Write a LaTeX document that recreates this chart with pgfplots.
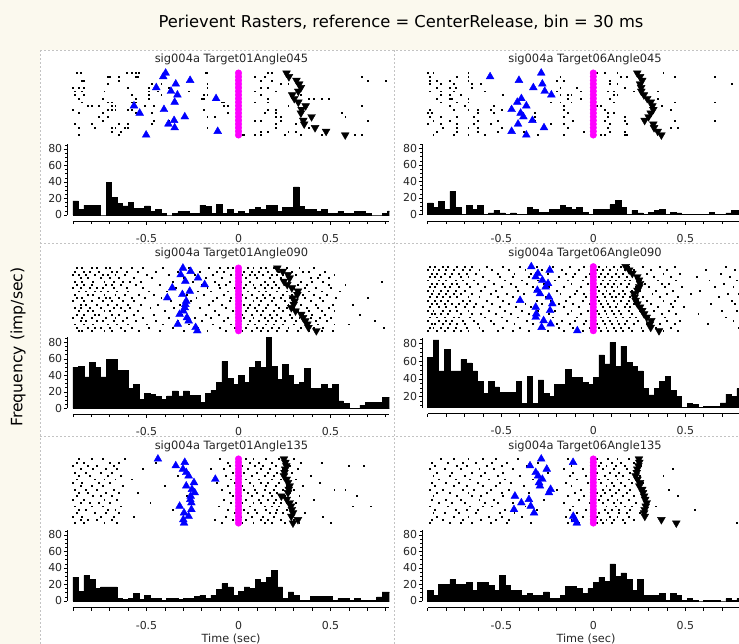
\documentclass[border=0pt]{standalone}
\usepackage{fontspec}
\setmainfont{DejaVu Sans}
\usepackage{pgfplots}
\usepackage{pgfplotstable}
\pgfplotsset{compat=1.18}
\definecolor{cream}{RGB}{251,249,238}
\definecolor{dashc}{RGB}{195,195,195}
\definecolor{mgn}{RGB}{255,0,255}
\definecolor{blu}{RGB}{0,0,255}

\pgfplotstableread{
t a b c d e f
-0.90 17 14 50 64 29 13
-0.87 7 9 51 84 12 7
-0.84 12 16 38 49 31 20
-0.81 12 6 56 73 26 20
-0.78 12 28 50 49 15 26
-0.75 0 9 38 49 17 20
-0.72 40 0 59 62 17 20
-0.69 21 11 59 58 17 23
-0.66 14 6 46 49 3 13
-0.63 11 11 46 37 2 23
-0.60 15 0 24 24 3 23
-0.57 8 2 29 37 9 19
-0.54 8 5 11 31 2 13
-0.51 11 2 18 25 7 31
-0.48 4 0 17 25 3 19
-0.45 7 2 14 25 3 13
-0.42 2 0 11 37 1 13
-0.39 0 0 15 12 3 7
-0.36 2 9 21 43 3 9
-0.33 4 6 15 12 2 7
-0.30 4 3 21 39 3 7
-0.27 2 3 16 24 3 11
-0.24 2 6 16 20 6 3
-0.21 12 6 7 34 7 3
-0.18 10 11 18 34 3 7
-0.15 2 9 22 51 7 18
-0.12 13 6 31 42 14 18
-0.09 2 9 57 42 21 15
-0.06 7 3 36 36 17 9
-0.03 2 0 29 34 7 15
0.00 4 6 40 42 12 23
0.03 2 6 31 67 17 29
0.06 7 6 50 57 15 24
0.09 9 12 57 81 26 45
0.12 7 17 50 54 23 30
0.15 12 9 86 77 29 34
0.18 12 0 51 59 37 26
0.21 4 5 35 54 17 13
0.24 9 2 53 49 3 26
0.27 9 0 40 29 11 7
0.30 34 3 29 22 7 7
0.33 10 5 31 29 1 7
0.36 7 6 48 37 1 9
0.39 7 0 24 43 6 1
0.42 4 3 24 27 6 9
0.45 7 2 29 20 6 7
0.48 2 0 24 8 6 1
0.51 2 0 29 12 1 3
0.54 4 0 9 11 3 1
0.57 2 0 6 8 3 0
0.60 2 0 0 9 1 1
0.63 4 3 0 9 3 1
0.66 4 0 4 9 1 1
0.69 2 0 7 13 1 0
0.72 0 2 7 23 1 3
0.75 0 5 7 20 5 1
0.78 2 5 13 29 11 3
0.81 5 5 13 29 11 3
0.84 0 0 0 0 0 0
}\hist

\pgfplotstableread{
k b d z
1 -0.396 0.261 0
2 -0.409 0.274 0
3 -0.263 0.315 0
4 -0.341 0.330 0
5 -0.447 0.339 0
6 -0.367 0.325 0
7 -0.332 0.292 0
8 -0.122 0.303 0
9 -0.347 0.325 0
10 -0.568 0.365 0
11 -0.405 0.343 0
12 -0.537 0.339 0
13 -0.292 0.397 0
14 -0.350 0.352 0
15 -0.381 0.357 0
16 -0.347 0.416 0
17 -0.113 0.476 0
18 -0.502 0.580 0
}\evA

\pgfplotstableread{
k b d z
1 -0.283 0.239 0
2 -0.561 0.254 0
3 -0.404 0.266 0
4 -0.277 0.254 0
5 -0.326 0.260 0
6 -0.264 0.261 0
7 -0.228 0.275 0
8 -0.391 0.293 0
9 -0.413 0.312 0
10 -0.364 0.321 0
11 -0.444 0.326 0
12 -0.395 0.312 0
13 -0.380 0.300 0
14 -0.331 0.279 0
15 -0.409 0.326 0
16 -0.268 0.330 0
17 -0.444 0.350 0
18 -0.364 0.370 0
}\evB

\pgfplotstableread{
k b d z
1 -0.302 0.211 0
2 -0.260 0.240 0
3 -0.314 0.269 0
4 -0.220 0.278 0
5 -0.289 0.247 0
6 -0.184 0.265 0
7 -0.360 0.290 0
8 -0.265 0.323 0
9 -0.305 0.320 0
10 -0.387 0.296 0
11 -0.284 0.305 0
12 -0.289 0.300 0
13 -0.292 0.287 0
14 -0.300 0.310 0
15 -0.320 0.341 0
16 -0.280 0.351 0
17 -0.271 0.363 0
18 -0.330 0.374 0
19 -0.233 0.380 0
20 -0.224 0.423 0
}\evC

\pgfplotstableread{
k b d z
1 -0.337 0.176 0
2 -0.237 0.195 0
3 -0.301 0.212 0
4 -0.313 0.239 0
5 -0.277 0.248 0
6 -0.246 0.254 0
7 -0.259 0.250 0
8 -0.304 0.240 0
9 -0.290 0.221 0
10 -0.241 0.225 0
11 -0.398 0.230 0
12 -0.223 0.240 0
13 -0.313 0.254 0
14 -0.235 0.266 0
15 -0.310 0.276 0
16 -0.313 0.290 0
17 -0.270 0.315 0
18 -0.232 0.308 0
19 -0.281 0.312 0
20 -0.087 0.357 0
}\evD

\pgfplotstableread{
k b d z
1 -0.438 0.247 0
2 -0.292 0.255 0
3 -0.341 0.260 0
4 -0.302 0.254 0
5 -0.284 0.250 0
6 -0.271 0.247 0
7 -0.126 0.262 0
8 -0.242 0.269 0
9 -0.284 0.278 0
10 -0.253 0.273 0
11 -0.238 0.269 0
12 -0.260 0.233 0
13 -0.262 0.262 0
14 -0.256 0.278 0
15 -0.320 0.285 0
16 -0.256 0.290 0
17 -0.296 0.296 0
18 -0.271 0.287 0
19 -0.300 0.323 0
20 -0.296 0.296 0
}\evE

\pgfplotstableread{
k b d z
1 -0.283 0.248 0
2 -0.110 0.250 0
3 -0.344 0.245 0
4 -0.253 0.239 0
5 -0.313 0.236 0
6 -0.300 0.230 0
7 -0.277 0.240 0
8 -0.295 0.254 0
9 -0.290 0.250 0
10 -0.232 0.266 0
11 -0.241 0.270 0
12 -0.426 0.276 0
13 -0.350 0.282 0
14 -0.391 0.290 0
15 -0.340 0.285 0
16 -0.431 0.279 0
17 -0.322 0.276 0
18 -0.109 0.280 0
19 -0.100 0.370 0
20 -0.090 0.451 0
}\evF

\pgfplotsset{
  /pgf/number format/assume math mode=true,
  raster/.style={scale only axis, width=316.48bp, xmin=-0.9, xmax=0.82,
    ymin=0.5, y dir=reverse, hide axis, clip=false, anchor=north west},
  histo/.style={scale only axis, width=322bp, xmin=-0.93, xmax=0.82,
    anchor=south west, axis y line*=left, axis x line=none,
    ytick={0,20,40,60,80}, minor ytick={0,5,...,85},
    tick align=outside, major tick length=3.5bp, minor tick length=2bp,
    tick style={black, line width=0.6bp},
    axis line style={black, line width=0.8bp},
    yticklabel style={font=\fontsize{11}{12}\selectfont, inner sep=1.5bp, text=black!85},
    ymin=0, ymax=86, height=70.95bp},
  xstrip/.style={scale only axis, width=316.48bp, height=1bp,
    xmin=-0.9, xmax=0.82, ymin=0, ymax=1, anchor=south west,
    axis x line*=bottom, axis y line=none,
    xtick={-0.5,0,0.5}, xticklabels={-0.5,0,0.5},
    minor xtick={-0.9,-0.8,-0.7,-0.6,-0.4,-0.3,-0.2,-0.1,0.1,0.2,0.3,0.4,0.6,0.7,0.8},
    tick align=outside, major tick length=3.5bp, minor tick length=3bp,
    tick style={black, line width=0.6bp},
    axis line style={black, line width=0.8bp},
    xticklabel shift=8bp,
    xticklabel style={font=\fontsize{11}{12}\selectfont, inner sep=1.5bp, text=black!85},
    xlabel style={font=\fontsize{11.3}{13}\selectfont, text=black!85, yshift=0bp}},
  bars/.style={ybar interval, fill=black, draw=black, line width=0.6bp},
  spk/.style={only marks, mark=square*, mark size=0.45bp, mark options={draw=none, fill=black}},
  mg/.style={only marks, mark=*, mark size=3.3bp, color=mgn, mark options={draw=mgn, fill=mgn}},
  bt/.style={only marks, mark=triangle*, mark size=4.5bp, color=blu, mark options={draw=blu, fill=blu}},
  kt/.style={only marks, mark=triangle*, mark size=4.5bp, color=black, mark options={rotate=180, draw=black, fill=black}},
}

\begin{document}
\begin{tikzpicture}
\path[use as bounding box] (0,0) rectangle (739bp,-644bp);
\fill[cream] (0,0) rectangle (739bp,-644bp);
\fill[white] (40bp,-50bp) rectangle (739bp,-644bp);
\begin{scope}[dashc, line width=0.8bp, dash pattern=on 2bp off 2bp]
\draw (40bp,-50bp) -- (739bp,-50bp);
\draw (40bp,-50bp) -- (40bp,-644bp);
\draw (394bp,-50bp) -- (394bp,-644bp);
\draw (40bp,-243bp) -- (739bp,-243bp);
\draw (40bp,-436.5bp) -- (739bp,-436.5bp);
\end{scope}

\node[font=\fontsize{16.4}{19}\selectfont] at (401bp,-22bp) {Perievent Rasters, reference = CenterRelease, bin = 30 ms};
\node[rotate=90, font=\fontsize{15.7}{18}\selectfont] at (18bp,-347bp) {Frequency (imp/sec)};

\begin{scope}[every node/.style={font=\fontsize{11.5}{13}\selectfont, text=black!85}]
\node at (231.5bp,-59.5bp) {sig004a Target01Angle045};
\node at (585bp,-59.5bp) {sig004a Target06Angle045};
\node at (231.5bp,-253bp) {sig004a Target01Angle090};
\node at (585bp,-253bp) {sig004a Target06Angle090};
\node at (231.5bp,-446bp) {sig004a Target01Angle135};
\node at (585bp,-446bp) {sig004a Target06Angle135};
\end{scope}

% ---------------- Panel 1 ----------------
\begin{axis}[raster, at={(72.9bp,-71.2bp)}, height=65.6bp, ymax=18.5]
\addplot[spk] coordinates {
(-0.88,1) (-0.86,1) (-0.61,1) (-0.58,1) (-0.56,1) (-0.54,1) (-0.40,1) (-0.18,1) (-0.17,1) (0.16,1) (0.18,1)
(-0.71,2) (-0.70,2) (-0.65,2) (-0.56,2) (-0.55,2) (0.09,2) (0.14,2) (0.67,2)
(-0.85,3) (-0.84,3) (-0.65,3) (0.12,3) (0.18,3) (0.70,3) (0.80,3)
(-0.71,4) (-0.47,4) (-0.42,4) (-0.17,4) (0.23,4) (0.27,4)
(-0.90,5) (-0.87,5) (-0.84,5) (-0.60,5) (-0.49,5) (-0.38,5) (-0.17,5) (0.12,5) (0.16,5)
(-0.89,6) (-0.85,6) (-0.73,6) (-0.49,6) (-0.44,6) (-0.27,6) (0.09,6) (0.20,6)
(-0.89,7) (-0.84,7) (-0.58,7) (-0.49,7) (-0.42,7) (-0.19,7) (-0.17,7) (0.12,7) (0.34,7)
(-0.87,8) (-0.74,8) (-0.56,8) (-0.49,8) (-0.20,8) (-0.19,8) (0.16,8) (0.38,8) (0.41,8) (0.45,8) (0.49,8)
(-0.85,9) (-0.71,9) (-0.69,9) (-0.58,9) (-0.56,9) (-0.09,9) (-0.08,9) (0.09,9) (0.16,9)
(-0.82,10) (-0.80,10) (-0.76,10) (-0.69,10) (-0.67,10) (-0.51,10) (-0.46,10) (-0.08,10) (-0.06,10) (0.27,10) (0.67,10)
(-0.90,11) (-0.71,11) (-0.69,11) (-0.67,11) (-0.60,11) (-0.58,11) (-0.19,11) (0.16,11) (0.20,11)
(-0.87,12) (-0.74,12) (-0.56,12) (-0.47,12) (-0.06,12) (0.14,12) (0.20,12) (0.34,12) (0.56,12)
(-0.76,13) (-0.71,13) (-0.17,13) (-0.13,13) (0.20,13) (0.23,13) (0.40,13) (0.58,13)
(-0.74,14) (-0.46,14) (-0.38,14) (0.09,14) (0.12,14) (0.23,14) (0.70,14)
(-0.89,15) (-0.80,15) (-0.65,15) (-0.60,15) (-0.47,15) (0.20,15) (0.31,15)
(-0.87,16) (-0.78,16) (-0.69,16) (-0.67,16) (-0.62,16) (-0.60,16) (-0.17,16) (0.20,16) (0.38,16)
(-0.69,17) (-0.64,17) (0.12,17) (0.16,17) (0.27,17) (0.31,17)
(-0.87,18) (-0.65,18) (0.02,18) (0.03,18) (0.09,18) (0.12,18) (0.25,18) (0.34,18) (0.45,18) (0.63,18) (0.67,18)
};
\addplot[mg] table[x=z,y=k] {\evA};
\addplot[bt] table[x=b,y=k] {\evA};
\addplot[kt] table[x=d,y=k] {\evA};
\end{axis}
\begin{axis}[histo, at={(67.4bp,-215bp)}]
\addplot[bars] table[x=t,y=a] {\hist};
\end{axis}
\begin{axis}[xstrip, at={(72.9bp,-221bp)}]
\end{axis}

% ---------------- Panel 2 ----------------
\begin{axis}[raster, at={(427.7bp,-71.2bp)}, height=65.6bp, ymax=18.5]
\addplot[spk] coordinates {
(-0.90,1) (-0.87,1) (-0.68,1) (0.02,1) (0.06,1) (0.13,1) (0.38,1)
(-0.89,2) (-0.74,2) (-0.68,2) (-0.18,2) (0.15,2) (0.18,2) (0.44,2) (0.66,2)
(-0.89,3) (-0.85,3) (-0.78,3) (-0.68,3) (-0.20,3) (-0.16,3) (0.09,3)
(-0.89,4) (-0.83,4) (-0.76,4) (-0.66,4) (-0.61,4) (0.09,4) (0.13,4) (0.75,4)
(-0.85,5) (-0.78,5) (-0.75,5) (-0.66,5) (-0.18,5) (-0.09,5) (0.17,5)
(-0.89,6) (-0.83,6) (-0.76,6) (-0.59,6) (-0.20,6) (-0.07,6) (0.08,6) (0.11,6) (0.22,6) (0.35,6)
(-0.83,7) (-0.78,7) (-0.72,7) (-0.49,7) (-0.18,7) (-0.14,7) (-0.12,7) (0.11,7) (0.13,7)
(-0.85,8) (-0.78,8) (-0.77,8) (-0.68,8) (-0.14,8) (-0.07,8) (0.09,8) (0.35,8)
(-0.83,9) (-0.74,9) (-0.68,9) (-0.23,9) (-0.18,9) (-0.12,9) (0.11,9) (0.44,9) (0.66,9)
(-0.78,10) (-0.70,10) (-0.54,10) (-0.16,10) (0.02,10) (0.04,10) (0.37,10)
(-0.89,11) (-0.76,11) (-0.68,11) (-0.63,11) (-0.56,11) (-0.50,11) (-0.16,11) (0.06,11) (0.42,11)
(-0.90,12) (-0.88,12) (-0.63,12) (-0.54,12) (-0.32,12) (-0.14,12) (0.08,12) (0.11,12)
(-0.89,13) (-0.83,13) (-0.74,13) (-0.65,13) (-0.32,13) (-0.16,13) (0.08,13) (0.17,13)
(-0.87,14) (-0.78,14) (-0.63,14) (-0.52,14) (-0.32,14) (-0.11,14) (0.06,14) (0.17,14) (0.44,14) (0.66,14)
(-0.90,15) (-0.83,15) (-0.74,15) (-0.65,15) (-0.56,15) (-0.23,15) (-0.16,15) (0.09,15) (0.18,15)
(-0.82,16) (-0.74,16) (-0.68,16) (-0.63,16) (-0.50,16) (-0.14,16) (0.08,16) (0.42,16) (0.46,16)
(-0.85,17) (-0.74,17) (-0.63,17) (-0.52,17) (-0.38,17) (-0.05,17) (0.09,17) (0.17,17)
(-0.87,18) (-0.76,18) (-0.68,18) (-0.59,18) (-0.30,18) (-0.16,18) (0.04,18) (0.06,18) (0.17,18) (0.18,18)
};
\addplot[mg] table[x=z,y=k] {\evB};
\addplot[bt] table[x=b,y=k] {\evB};
\addplot[kt] table[x=d,y=k] {\evB};
\end{axis}
\begin{axis}[histo, at={(422.2bp,-214.5bp)}]
\addplot[bars] table[x=t,y=b] {\hist};
\end{axis}
\begin{axis}[xstrip, at={(427.7bp,-221bp)}]
\end{axis}

% ---------------- Panel 3 ----------------
\begin{axis}[raster, at={(72.9bp,-266.4bp)}, height=66bp, ymax=20.5]
\addplot[spk] coordinates {
(-0.88,1) (-0.85,1) (-0.80,1) (-0.77,1) (-0.72,1) (-0.70,1) (-0.64,1) (-0.58,1) (-0.52,1) (-0.41,1) (-0.27,1) (-0.16,1) (-0.10,1) (-0.06,1) (-0.03,1) (0.05,1) (0.08,1) (0.12,1) (0.15,1) (0.19,1) (0.26,1) (0.33,1) (0.41,1)
(-0.89,2) (-0.84,2) (-0.81,2) (-0.76,2) (-0.69,2) (-0.66,2) (-0.61,2) (-0.55,2) (-0.45,2) (-0.33,2) (-0.21,2) (-0.12,2) (-0.08,2) (0.03,2) (0.07,2) (0.11,2) (0.16,2) (0.22,2) (0.29,2) (0.35,2) (0.38,2) (0.47,2)
(-0.90,3) (-0.87,3) (-0.83,3) (-0.78,3) (-0.74,3) (-0.71,3) (-0.67,3) (-0.62,3) (-0.50,3) (-0.38,3) (-0.24,3) (-0.14,3) (-0.04,3) (0.02,3) (0.06,3) (0.09,3) (0.13,3) (0.18,3) (0.21,3) (0.24,3) (0.31,3) (0.44,3) (0.52,3)
(-0.86,4) (-0.82,4) (-0.75,4) (-0.70,4) (-0.65,4) (-0.57,4) (-0.47,4) (-0.30,4) (-0.18,4) (-0.09,4) (0.04,4) (0.10,4) (0.17,4) (0.23,4) (0.28,4) (0.39,4) (0.43,4) (0.49,4)
(-0.89,5) (-0.85,5) (-0.79,5) (-0.73,5) (-0.68,5) (-0.63,5) (-0.59,5) (-0.53,5) (-0.36,5) (-0.25,5) (-0.13,5) (-0.05,5) (0.01,5) (0.06,5) (0.14,5) (0.19,5) (0.27,5) (0.34,5) (0.40,5) (0.46,5) (0.78,5)
(-0.88,6) (-0.84,6) (-0.80,6) (-0.72,6) (-0.69,6) (-0.64,6) (-0.56,6) (-0.43,6) (-0.20,6) (-0.11,6) (-0.07,6) (0.04,6) (0.08,6) (0.12,6) (0.16,6) (0.20,6) (0.25,6) (0.32,6) (0.37,6) (0.49,6) (0.58,6)
(-0.90,7) (-0.86,7) (-0.81,7) (-0.77,7) (-0.74,7) (-0.68,7) (-0.61,7) (-0.52,7) (-0.34,7) (-0.17,7) (-0.10,7) (-0.02,7) (0.03,7) (0.09,7) (0.14,7) (0.18,7) (0.22,7) (0.30,7) (0.36,7) (0.42,7) (0.50,7)
(-0.87,8) (-0.83,8) (-0.78,8) (-0.75,8) (-0.71,8) (-0.66,8) (-0.60,8) (-0.49,8) (-0.39,8) (-0.22,8) (-0.15,8) (-0.06,8) (0.05,8) (0.11,8) (0.15,8) (0.21,8) (0.26,8) (0.33,8) (0.38,8) (0.45,8) (0.55,8)
(-0.89,9) (-0.82,9) (-0.79,9) (-0.73,9) (-0.67,9) (-0.62,9) (-0.54,9) (-0.46,9) (-0.28,9) (-0.19,9) (-0.08,9) (0.02,9) (0.07,9) (0.13,9) (0.17,9) (0.24,9) (0.29,9) (0.35,9) (0.41,9) (0.48,9)
(-0.88,10) (-0.85,10) (-0.76,10) (-0.72,10) (-0.70,10) (-0.65,10) (-0.58,10) (-0.51,10) (-0.42,10) (-0.23,10) (-0.12,10) (-0.04,10) (0.04,10) (0.10,10) (0.14,10) (0.19,10) (0.23,10) (0.28,10) (0.36,10) (0.44,10) (0.53,10) (0.70,10)
(-0.90,11) (-0.84,11) (-0.80,11) (-0.74,11) (-0.69,11) (-0.63,11) (-0.57,11) (-0.37,11) (-0.26,11) (-0.14,11) (-0.05,11) (0.01,11) (0.08,11) (0.12,11) (0.18,11) (0.25,11) (0.31,11) (0.39,11) (0.46,11)
(-0.86,12) (-0.83,12) (-0.77,12) (-0.71,12) (-0.66,12) (-0.60,12) (-0.53,12) (-0.44,12) (-0.32,12) (-0.16,12) (-0.09,12) (0.03,12) (0.06,12) (0.11,12) (0.16,12) (0.20,12) (0.27,12) (0.34,12) (0.42,12) (0.51,12) (0.62,12)
(-0.89,13) (-0.86,13) (-0.81,13) (-0.75,13) (-0.68,13) (-0.64,13) (-0.59,13) (-0.48,13) (-0.35,13) (-0.21,13) (-0.07,13) (-0.01,13) (0.05,13) (0.09,13) (0.15,13) (0.22,13) (0.26,13) (0.30,13) (0.37,13) (0.43,13) (0.49,13)
(-0.87,14) (-0.82,14) (-0.79,14) (-0.73,14) (-0.70,14) (-0.62,14) (-0.55,14) (-0.40,14) (-0.29,14) (-0.13,14) (-0.03,14) (0.04,14) (0.10,14) (0.13,14) (0.19,14) (0.24,14) (0.32,14) (0.38,14) (0.45,14) (0.52,14)
(-0.88,15) (-0.84,15) (-0.78,15) (-0.76,15) (-0.69,15) (-0.65,15) (-0.57,15) (-0.46,15) (-0.31,15) (-0.18,15) (-0.11,15) (0.02,15) (0.07,15) (0.12,15) (0.17,15) (0.21,15) (0.28,15) (0.35,15) (0.40,15) (0.47,15) (0.66,15)
(-0.90,16) (-0.85,16) (-0.80,16) (-0.72,16) (-0.67,16) (-0.61,16) (-0.52,16) (-0.38,16) (-0.24,16) (-0.15,16) (-0.06,16) (0.03,16) (0.08,16) (0.14,16) (0.18,16) (0.23,16) (0.29,16) (0.33,16) (0.39,16) (0.44,16) (0.50,16)
(-0.86,17) (-0.83,17) (-0.77,17) (-0.74,17) (-0.68,17) (-0.63,17) (-0.56,17) (-0.45,17) (-0.33,17) (-0.20,17) (-0.08,17) (0.01,17) (0.06,17) (0.11,17) (0.16,17) (0.20,17) (0.25,17) (0.31,17) (0.36,17) (0.42,17) (0.48,17) (0.74,17)
(-0.89,18) (-0.84,18) (-0.79,18) (-0.71,18) (-0.66,18) (-0.60,18) (-0.50,18) (-0.41,18) (-0.27,18) (-0.14,18) (-0.04,18) (0.05,18) (0.09,18) (0.15,18) (0.19,18) (0.24,18) (0.30,18) (0.37,18) (0.43,18) (0.52,18) (0.60,18)
(-0.88,19) (-0.82,19) (-0.78,19) (-0.75,19) (-0.70,19) (-0.64,19) (-0.58,19) (-0.49,19) (-0.36,19) (-0.22,19) (-0.10,19) (-0.02,19) (0.04,19) (0.10,19) (0.13,19) (0.18,19) (0.22,19) (0.27,19) (0.34,19) (0.41,19) (0.46,19) (0.79,19)
(-0.87,20) (-0.85,20) (-0.80,20) (-0.73,20) (-0.69,20) (-0.62,20) (-0.54,20) (-0.43,20) (-0.30,20) (-0.17,20) (-0.07,20) (0.02,20) (0.07,20) (0.12,20) (0.16,20) (0.21,20) (0.26,20) (0.32,20) (0.38,20) (0.45,20) (0.51,20)
};
\addplot[mg] table[x=z,y=k] {\evC};
\addplot[bt] table[x=b,y=k] {\evC};
\addplot[kt] table[x=d,y=k] {\evC};
\end{axis}
\begin{axis}[histo, at={(67.4bp,-408.3bp)}]
\addplot[bars] table[x=t,y=c] {\hist};
\end{axis}
\begin{axis}[xstrip, at={(72.9bp,-414bp)}]
\end{axis}

% ---------------- Panel 4 ----------------
\begin{axis}[raster, at={(427.7bp,-265bp)}, height=67.4bp, ymax=20.5]
\addplot[spk] coordinates {
(-0.89,1) (-0.86,1) (-0.82,1) (-0.79,1) (-0.74,1) (-0.70,1) (-0.66,1) (-0.58,1) (-0.49,1) (-0.40,1) (-0.31,1) (-0.22,1) (-0.13,1) (-0.05,1) (0.03,1) (0.07,1) (0.11,1) (0.15,1) (0.19,1) (0.27,1) (0.36,1) (0.44,1) (0.72,1)
(-0.90,2) (-0.87,2) (-0.84,2) (-0.80,2) (-0.76,2) (-0.71,2) (-0.67,2) (-0.62,2) (-0.55,2) (-0.46,2) (-0.37,2) (-0.28,2) (-0.17,2) (-0.08,2) (0.02,2) (0.05,2) (0.09,2) (0.13,2) (0.17,2) (0.22,2) (0.31,2) (0.40,2) (0.61,2) (0.77,2)
(-0.88,3) (-0.85,3) (-0.81,3) (-0.77,3) (-0.73,3) (-0.69,3) (-0.64,3) (-0.52,3) (-0.43,3) (-0.34,3) (-0.25,3) (-0.15,3) (-0.10,3) (-0.02,3) (0.04,3) (0.08,3) (0.12,3) (0.16,3) (0.21,3) (0.29,3) (0.38,3) (0.47,3) (0.69,3) (0.80,3)
(-0.89,4) (-0.86,4) (-0.83,4) (-0.78,4) (-0.72,4) (-0.68,4) (-0.60,4) (-0.51,4) (-0.44,4) (-0.35,4) (-0.19,4) (-0.11,4) (-0.04,4) (0.03,4) (0.06,4) (0.10,4) (0.14,4) (0.18,4) (0.24,4) (0.33,4) (0.42,4) (0.56,4) (0.74,4)
(-0.90,5) (-0.84,5) (-0.80,5) (-0.75,5) (-0.71,5) (-0.65,5) (-0.57,5) (-0.48,5) (-0.39,5) (-0.30,5) (-0.21,5) (-0.14,5) (-0.06,5) (0.01,5) (0.05,5) (0.09,5) (0.12,5) (0.17,5) (0.20,5) (0.26,5) (0.35,5) (0.45,5) (0.63,5) (0.78,5)
(-0.88,6) (-0.85,6) (-0.82,6) (-0.77,6) (-0.74,6) (-0.69,6) (-0.63,6) (-0.54,6) (-0.45,6) (-0.36,6) (-0.27,6) (-0.12,6) (-0.03,6) (0.04,6) (0.08,6) (0.11,6) (0.15,6) (0.19,6) (0.28,6) (0.37,6) (0.41,6) (0.71,6)
(-0.89,7) (-0.86,7) (-0.81,7) (-0.78,7) (-0.73,7) (-0.67,7) (-0.59,7) (-0.50,7) (-0.42,7) (-0.33,7) (-0.24,7) (-0.16,7) (-0.07,7) (0.02,7) (0.06,7) (0.10,7) (0.13,7) (0.18,7) (0.23,7) (0.30,7) (0.39,7) (0.48,7) (0.66,7) (0.76,7)
(-0.90,8) (-0.87,8) (-0.83,8) (-0.79,8) (-0.75,8) (-0.70,8) (-0.61,8) (-0.53,8) (-0.41,8) (-0.32,8) (-0.20,8) (-0.09,8) (-0.01,8) (0.03,8) (0.07,8) (0.11,8) (0.16,8) (0.21,8) (0.25,8) (0.34,8) (0.43,8) (0.58,8)
(-0.88,9) (-0.84,9) (-0.80,9) (-0.76,9) (-0.72,9) (-0.66,9) (-0.56,9) (-0.47,9) (-0.38,9) (-0.29,9) (-0.18,9) (-0.10,9) (-0.05,9) (0.01,9) (0.05,9) (0.09,9) (0.14,9) (0.17,9) (0.22,9) (0.32,9) (0.40,9) (0.53,9) (0.73,9) (0.79,9)
(-0.89,10) (-0.85,10) (-0.82,10) (-0.78,10) (-0.74,10) (-0.68,10) (-0.62,10) (-0.52,10) (-0.44,10) (-0.26,10) (-0.13,10) (-0.04,10) (0.02,10) (0.06,10) (0.10,10) (0.12,10) (0.16,10) (0.20,10) (0.27,10) (0.36,10) (0.46,10) (0.68,10)
(-0.90,11) (-0.86,11) (-0.83,11) (-0.79,11) (-0.71,11) (-0.67,11) (-0.58,11) (-0.49,11) (-0.40,11) (-0.31,11) (-0.23,11) (-0.15,11) (-0.06,11) (0.03,11) (0.07,11) (0.11,11) (0.15,11) (0.19,11) (0.24,11) (0.29,11) (0.38,11) (0.44,11) (0.75,11)
(-0.88,12) (-0.85,12) (-0.81,12) (-0.77,12) (-0.73,12) (-0.69,12) (-0.64,12) (-0.55,12) (-0.46,12) (-0.37,12) (-0.28,12) (-0.19,12) (-0.11,12) (-0.02,12) (0.04,12) (0.08,12) (0.13,12) (0.18,12) (0.22,12) (0.31,12) (0.42,12) (0.64,12) (0.77,12)
(-0.89,13) (-0.84,13) (-0.80,13) (-0.75,13) (-0.70,13) (-0.65,13) (-0.60,13) (-0.51,13) (-0.42,13) (-0.34,13) (-0.16,13) (-0.08,13) (0.01,13) (0.05,13) (0.09,13) (0.12,13) (0.17,13) (0.20,13) (0.26,13) (0.35,13) (0.43,13) (0.49,13)
(-0.90,14) (-0.87,14) (-0.82,14) (-0.78,14) (-0.74,14) (-0.68,14) (-0.57,14) (-0.48,14) (-0.39,14) (-0.30,14) (-0.21,14) (-0.12,14) (-0.03,14) (0.02,14) (0.06,14) (0.10,14) (0.14,14) (0.19,14) (0.25,14) (0.33,14) (0.41,14) (0.70,14) (0.78,14)
(-0.88,15) (-0.86,15) (-0.83,15) (-0.79,15) (-0.72,15) (-0.66,15) (-0.61,15) (-0.53,15) (-0.45,15) (-0.35,15) (-0.24,15) (-0.14,15) (-0.07,15) (0.03,15) (0.07,15) (0.11,15) (0.15,15) (0.21,15) (0.28,15) (0.37,15) (0.45,15) (0.57,15)
(-0.89,16) (-0.85,16) (-0.81,16) (-0.76,16) (-0.73,16) (-0.67,16) (-0.59,16) (-0.50,16) (-0.41,16) (-0.32,16) (-0.22,16) (-0.09,16) (-0.01,16) (0.04,16) (0.08,16) (0.12,16) (0.16,16) (0.20,16) (0.23,16) (0.30,16) (0.39,16) (0.72,16)
(-0.90,17) (-0.84,17) (-0.80,17) (-0.77,17) (-0.71,17) (-0.65,17) (-0.56,17) (-0.47,17) (-0.36,17) (-0.27,17) (-0.17,17) (-0.10,17) (-0.04,17) (0.01,17) (0.05,17) (0.09,17) (0.13,17) (0.18,17) (0.24,17) (0.32,17) (0.40,17) (0.47,17) (0.76,17)
(-0.88,18) (-0.86,18) (-0.82,18) (-0.78,18) (-0.74,18) (-0.70,18) (-0.63,18) (-0.54,18) (-0.43,18) (-0.33,18) (-0.20,18) (-0.13,18) (-0.05,18) (0.02,18) (0.06,18) (0.10,18) (0.14,18) (0.17,18) (0.22,18) (0.29,18) (0.36,18) (0.44,18) (0.62,18)
(-0.89,19) (-0.87,19) (-0.83,19) (-0.79,19) (-0.75,19) (-0.69,19) (-0.62,19) (-0.49,19) (-0.40,19) (-0.29,19) (-0.19,19) (-0.11,19) (-0.02,19) (0.03,19) (0.07,19) (0.11,19) (0.15,19) (0.19,19) (0.26,19) (0.34,19) (0.42,19) (0.79,19)
(-0.90,20) (-0.85,20) (-0.81,20) (-0.76,20) (-0.72,20) (-0.68,20) (-0.60,20) (-0.52,20) (-0.44,20) (-0.35,20) (-0.25,20) (-0.16,20) (-0.06,20) (0.04,20) (0.08,20) (0.12,20) (0.16,20) (0.21,20) (0.27,20) (0.38,20) (0.46,20)
};
\addplot[mg] table[x=z,y=k] {\evD};
\addplot[bt] table[x=b,y=k] {\evD};
\addplot[kt] table[x=d,y=k] {\evD};
\end{axis}
\begin{axis}[histo, at={(422.2bp,-407.7bp)}, ymin=7.6, ymax=85.6, height=69.3bp,
  ytick={20,40,60,80}, minor ytick={10,15,...,85}]
\addplot[bars] table[x=t,y=d] {\hist};
\end{axis}
\begin{axis}[xstrip, at={(427.7bp,-413.5bp)}]
\end{axis}

% ---------------- Panel 5 ----------------
\begin{axis}[raster, at={(72.9bp,-457.3bp)}, height=67.4bp, ymax=20.5]
\addplot[spk] coordinates {
(-0.87,1) (-0.80,1) (-0.74,1) (-0.62,1) (-0.10,1) (0.04,1) (0.08,1) (0.15,1) (0.22,1) (0.30,1)
(-0.88,2) (-0.84,2) (-0.70,2) (-0.65,2) (-0.45,2) (-0.06,2) (0.06,2) (0.11,2) (0.18,2) (0.26,2) (0.34,2) (0.45,2)
(-0.90,3) (-0.82,3) (-0.77,3) (-0.68,3) (-0.05,3) (0.02,3) (0.09,3) (0.13,3) (0.20,3) (0.28,3) (0.60,3) (0.68,3)
(-0.86,4) (-0.79,4) (-0.72,4) (-0.66,4) (-0.52,4) (-0.15,4) (-0.08,4) (0.05,4) (0.12,4) (0.17,4) (0.24,4) (0.32,4)
(-0.89,5) (-0.83,5) (-0.75,5) (-0.69,5) (-0.03,5) (0.03,5) (0.10,5) (0.16,5) (0.21,5) (0.29,5)
(-0.87,6) (-0.81,6) (-0.71,6) (-0.64,6) (-0.33,6) (-0.07,6) (0.01,6) (0.07,6) (0.14,6) (0.19,6) (0.25,6) (0.39,6)
(-0.88,7) (-0.78,7) (-0.73,7) (-0.67,7) (-0.58,7) (-0.04,7) (0.04,7) (0.11,7) (0.18,7) (0.23,7) (0.31,7)
(-0.90,8) (-0.85,8) (-0.76,8) (-0.70,8) (-0.12,8) (-0.02,8) (0.06,8) (0.12,8) (0.16,8) (0.22,8) (0.27,8) (0.44,8)
(-0.86,9) (-0.80,9) (-0.74,9) (-0.63,9) (-0.40,9) (-0.06,9) (0.02,9) (0.08,9) (0.15,9) (0.20,9) (0.26,9) (0.35,9)
(-0.89,10) (-0.83,10) (-0.77,10) (-0.68,10) (-0.09,10) (0.03,10) (0.09,10) (0.14,10) (0.19,10) (0.24,10) (0.30,10) (0.52,10) (0.58,10)
(-0.87,11) (-0.82,11) (-0.72,11) (-0.65,11) (-0.55,11) (-0.05,11) (0.05,11) (0.10,11) (0.17,11) (0.21,11) (0.28,11)
(-0.88,12) (-0.79,12) (-0.75,12) (-0.69,12) (-0.28,12) (-0.03,12) (0.01,12) (0.07,12) (0.13,12) (0.18,12) (0.25,12) (0.33,12) (0.64,12)
(-0.90,13) (-0.84,13) (-0.73,13) (-0.66,13) (-0.08,13) (0.04,13) (0.11,13) (0.16,13) (0.20,13) (0.27,13) (0.41,13)
(-0.86,14) (-0.81,14) (-0.76,14) (-0.70,14) (-0.48,14) (-0.04,14) (0.02,14) (0.08,14) (0.12,14) (0.19,14) (0.23,14) (0.31,14)
(-0.89,15) (-0.80,15) (-0.74,15) (-0.64,15) (-0.11,15) (-0.01,15) (0.06,15) (0.14,15) (0.18,15) (0.22,15) (0.29,15) (0.62,15) (0.72,15)
(-0.87,16) (-0.83,16) (-0.71,16) (-0.67,16) (-0.36,16) (-0.06,16) (0.03,16) (0.09,16) (0.15,16) (0.21,16) (0.26,16)
(-0.88,17) (-0.78,17) (-0.72,17) (-0.65,17) (-0.02,17) (0.05,17) (0.10,17) (0.17,17) (0.20,17) (0.24,17) (0.36,17)
(-0.90,18) (-0.85,18) (-0.75,18) (-0.68,18) (-0.57,18) (-0.07,18) (0.01,18) (0.07,18) (0.13,18) (0.19,18) (0.28,18) (0.46,18)
(-0.86,19) (-0.82,19) (-0.77,19) (-0.69,19) (-0.13,19) (-0.03,19) (0.04,19) (0.12,19) (0.16,19) (0.23,19) (0.30,19)
(-0.89,20) (-0.84,20) (-0.73,20) (-0.66,20) (-0.09,20) (0.02,20) (0.08,20) (0.14,20) (0.18,20) (0.25,20) (0.33,20) (0.50,20)
};
\addplot[mg] table[x=z,y=k] {\evE};
\addplot[bt] table[x=b,y=k] {\evE};
\addplot[kt] table[x=d,y=k] {\evE};
\end{axis}
\begin{axis}[histo, at={(67.4bp,-601bp)}]
\addplot[bars] table[x=t,y=e] {\hist};
\end{axis}
\begin{axis}[xstrip, at={(72.9bp,-607.7bp)}, xlabel={Time (sec)}]
\end{axis}

% ---------------- Panel 6 ----------------
\begin{axis}[raster, at={(427.7bp,-457.3bp)}, height=67.4bp, ymax=20.5]
\addplot[spk] coordinates {
(-0.83,1) (-0.76,1) (-0.68,1) (-0.60,1) (-0.53,1) (-0.41,1) (-0.14,1) (0.02,1) (0.08,1) (0.13,1) (0.19,1) (0.24,1)
(-0.88,2) (-0.79,2) (-0.71,2) (-0.64,2) (-0.55,2) (-0.47,2) (-0.30,2) (-0.10,2) (0.04,2) (0.10,2) (0.15,2) (0.22,2)
(-0.86,3) (-0.74,3) (-0.69,3) (-0.58,3) (-0.50,3) (-0.36,3) (-0.12,3) (0.03,3) (0.07,3) (0.12,3) (0.17,3) (0.26,3)
(-0.89,4) (-0.81,4) (-0.72,4) (-0.62,4) (-0.54,4) (-0.44,4) (-0.16,4) (-0.06,4) (0.05,4) (0.11,4) (0.18,4) (0.23,4) (0.43,4)
(-0.85,5) (-0.77,5) (-0.66,5) (-0.59,5) (-0.49,5) (-0.25,5) (-0.11,5) (0.02,5) (0.09,5) (0.14,5) (0.20,5)
(-0.87,6) (-0.78,6) (-0.70,6) (-0.61,6) (-0.52,6) (-0.40,6) (-0.13,6) (-0.04,6) (0.06,6) (0.12,6) (0.16,6) (0.25,6) (0.38,6)
(-0.84,7) (-0.75,7) (-0.67,7) (-0.57,7) (-0.48,7) (-0.33,7) (-0.09,7) (0.03,7) (0.08,7) (0.13,7) (0.19,7)
(-0.88,8) (-0.80,8) (-0.73,8) (-0.63,8) (-0.51,8) (-0.45,8) (-0.15,8) (-0.03,8) (0.04,8) (0.10,8) (0.15,8) (0.21,8) (0.27,8)
(-0.86,9) (-0.76,9) (-0.69,9) (-0.60,9) (-0.53,9) (-0.38,9) (-0.12,9) (0.01,9) (0.07,9) (0.11,9) (0.17,9) (0.24,9)
(-0.89,10) (-0.82,10) (-0.71,10) (-0.65,10) (-0.56,10) (-0.46,10) (-0.20,10) (-0.07,10) (0.05,10) (0.09,10) (0.14,10) (0.20,10) (0.41,10)
(-0.85,11) (-0.78,11) (-0.68,11) (-0.58,11) (-0.50,11) (-0.35,11) (-0.10,11) (0.02,11) (0.06,11) (0.12,11) (0.18,11) (0.26,11)
(-0.87,12) (-0.74,12) (-0.66,12) (-0.61,12) (-0.49,12) (-0.42,12) (-0.14,12) (-0.05,12) (0.04,12) (0.10,12) (0.16,12) (0.22,12) (0.46,12)
(-0.88,13) (-0.80,13) (-0.72,13) (-0.62,13) (-0.54,13) (-0.27,13) (-0.08,13) (0.03,13) (0.08,13) (0.13,13) (0.19,13)
(-0.84,14) (-0.77,14) (-0.70,14) (-0.59,14) (-0.52,14) (-0.44,14) (-0.16,14) (-0.02,14) (0.05,14) (0.11,14) (0.15,14) (0.23,14)
(-0.89,15) (-0.79,15) (-0.67,15) (-0.60,15) (-0.55,15) (-0.37,15) (-0.11,15) (0.01,15) (0.07,15) (0.12,15) (0.17,15) (0.21,15) (0.34,15)
(-0.86,16) (-0.75,16) (-0.69,16) (-0.63,16) (-0.48,16) (-0.31,16) (-0.13,16) (-0.04,16) (0.06,16) (0.10,16) (0.14,16) (0.20,16) (0.55,16)
(-0.87,17) (-0.81,17) (-0.73,17) (-0.64,17) (-0.51,17) (-0.43,17) (-0.09,17) (0.03,17) (0.08,17) (0.14,17) (0.18,17) (0.25,17)
(-0.85,18) (-0.76,18) (-0.68,18) (-0.57,18) (-0.50,18) (-0.39,18) (-0.15,18) (-0.06,18) (0.02,18) (0.09,18) (0.13,18) (0.19,18) (0.28,18)
(-0.88,19) (-0.82,19) (-0.71,19) (-0.61,19) (-0.53,19) (-0.46,19) (-0.12,19) (0.04,19) (0.07,19) (0.11,19) (0.16,19) (0.22,19)
(-0.89,20) (-0.78,20) (-0.72,20) (-0.66,20) (-0.56,20) (-0.47,20) (-0.34,20) (-0.14,20) (-0.08,20) (0.02,20) (0.05,20) (0.10,20) (0.17,20) (0.78,20)
};
\addplot[mg] table[x=z,y=k] {\evF};
\addplot[bt] table[x=b,y=k] {\evF};
\addplot[kt] table[x=d,y=k] {\evF};
\end{axis}
\begin{axis}[histo, at={(422.2bp,-601bp)}]
\addplot[bars] table[x=t,y=f] {\hist};
\end{axis}
\begin{axis}[xstrip, at={(427.7bp,-607.7bp)}, xlabel={Time (sec)}]
\end{axis}
\end{tikzpicture}
\end{document}
